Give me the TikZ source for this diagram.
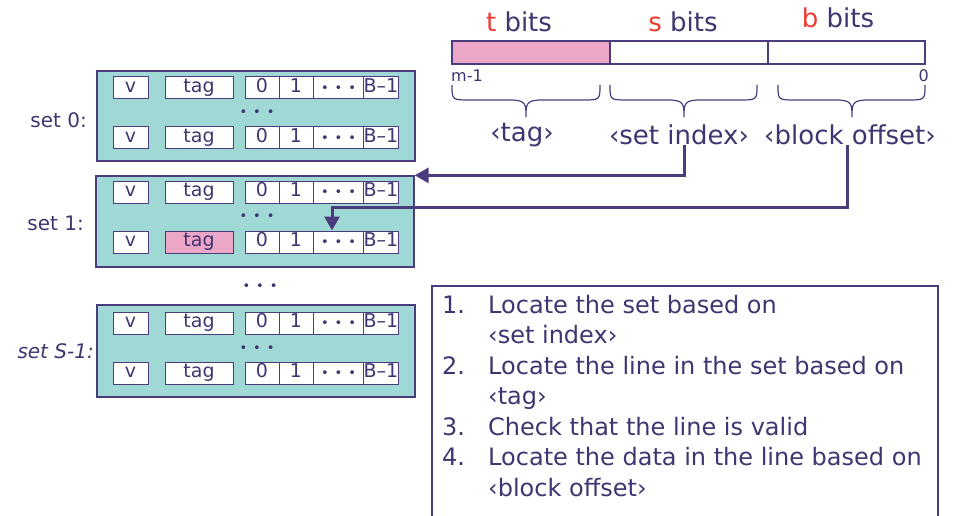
\documentclass[tikz,border=0pt]{standalone}
\usepackage{fontspec}
\setmainfont{DejaVu Sans}
\usetikzlibrary{arrows.meta,calc}
\definecolor{ink}{HTML}{3F3570}
\definecolor{edgec}{HTML}{4B3C7D}
\definecolor{cacheteal}{HTML}{9FD8D4}
\definecolor{tagpink}{HTML}{EBA6C8}
\definecolor{bitred}{HTML}{EE3B30}
\newcommand\threedots{{\fontsize{13}{13}\selectfont •\hspace{6pt}•\hspace{6pt}•}}
\newcommand\cacherow[3]{%
  \node[cell,minimum width=35] (#1v) at (130.5,#2) {v};
  \node[cell,minimum width=68,fill=#3] (#1t) at (199,#2) {tag};
  \node[cell,minimum width=34] (#1a) at (262,#2) {0};
  \node[cell,minimum width=34] (#1b) at (296,#2) {1};
  \node[cell,minimum width=51] (#1c) at (338.5,#2) {\threedots};
  \node[cell,minimum width=34] (#1d) at (381,#2) {B–1};
}
\newcommand\addrbrace[4]{%
  \draw[bracec] (#1,85) .. controls (#1,100) and (#1,100) .. (#1+18,100)
    -- (#3-16,100) .. controls (#3,100) and (#3,104) .. (#3,117)
    .. controls (#3,104) and (#3,100) .. (#3+16,100)
    -- (#2-18,100) .. controls (#2,100) and (#2,100) .. (#2,85);
  \coordinate (#4) at (#3,117);
}
\begin{document}
\begin{tikzpicture}[x=1pt,y=-1pt,
  setbox/.style={draw=edgec,fill=cacheteal,line width=1.3pt,inner sep=0pt,minimum width=318},
  cell/.style={draw=edgec,fill=white,line width=1pt,inner sep=0pt,minimum height=22,
    text height=13pt,text depth=3.5pt,text=ink,font=\fontsize{19}{19}\selectfont},
  field/.style={draw=edgec,line width=1.2pt,inner sep=0pt,minimum height=23},
  lbl/.style={text=ink,inner sep=0pt,font=\fontsize{26}{26}\selectfont},
  setlbl/.style={text=ink,inner sep=0pt,anchor=east,font=\fontsize{20}{20}\selectfont},
  dotsc/.style={text=ink,inner sep=0pt},
  bracec/.style={draw=edgec,line width=1.2pt},
  conn/.style={draw=edgec,line width=3pt,-{Triangle[length=14pt,width=15pt]}},
  listtxt/.style={text=ink,inner sep=0pt,anchor=base west,font=\fontsize{24}{24}\selectfont}
]
\useasboundingbox (0,0) rectangle (953,516);

% sets
\node[setbox,minimum height=90] (set0) at (256,116) {};
\node[setbox,minimum height=91] (set1) at (255,221.5) {};
\node[setbox,minimum height=92] (setS) at (256,351) {};

\node[setlbl] (l0) at (87,120) {set 0:};
\node[setlbl] (l1) at (84,223) {set 1:};
\node[setlbl] (lS) at (94,351) {\itshape set S-1:};

\cacherow{s0r1}{88}{white}
\cacherow{s0r2}{138}{white}
\cacherow{s1r1}{192}{white}
\cacherow{s1r2}{242}{tagpink}
\cacherow{sSr1}{323}{white}
\cacherow{sSr2}{373}{white}

\node[dotsc] (d0) at (257,113) {\threedots};
\node[dotsc] (d1) at (257,217) {\threedots};
\node[dotsc] (dm) at (260,287) {\threedots};
\node[dotsc] (dS) at (257,349) {\threedots};

% address
\node[field,fill=tagpink,minimum width=158] (ft) at (531,52.5) {};
\node[field,fill=white,minimum width=158] (fs) at (689,52.5) {};
\node[field,fill=white,minimum width=157] (fb) at (846.5,52.5) {};

\node[lbl] (bt) at (519,22) {\textcolor{bitred}{t} bits};
\node[lbl] (bs) at (683,22) {\textcolor{bitred}{s} bits};
\node[lbl] (bb) at (838,18) {\textcolor{bitred}{b} bits};

\node[text=ink,inner sep=0pt,anchor=west,font=\fontsize{16}{16}\selectfont] (hi) at (451,76) {m-1};
\node[text=ink,inner sep=0pt,anchor=east,font=\fontsize{16}{16}\selectfont] (lo) at (929,76) {0};

\addrbrace{452}{600}{526}{tipt}
\addrbrace{610}{757}{684}{tips}
\addrbrace{778}{925}{852}{tipb}

\node[lbl] (ltag) at (522,135) {‹tag›};
\node[lbl] (lsidx) at (679,135) {‹set index›};
\node[lbl] (lboff) at (850,135) {‹block offset›};

% connectors
\draw[conn] ($(lsidx.south)+(5,0)$) |- (set1.north east);
\coordinate (bend) at (332,207);
\draw[conn] ($(lboff.south)+(-3,0)$) |- (bend) -- (bend |- s1r2c.north);

% steps box
\node[draw=edgec,line width=2pt,inner sep=0pt,minimum width=506,minimum height=240,anchor=north west] (steps) at (431,285) {};
\node[listtxt] (n1) at (442,313) {1.};
\node[listtxt] (t1) at (488,313) {Locate the set based on};
\node[listtxt] (t1b) at (488,343.5) {‹set index›};
\node[listtxt] (n2) at (442,374) {2.};
\node[listtxt] (t2) at (488,374) {Locate the line in the set based on};
\node[listtxt] (t2b) at (488,404.5) {‹tag›};
\node[listtxt] (n3) at (442,435) {3.};
\node[listtxt] (t3) at (488,435) {Check that the line is valid};
\node[listtxt] (n4) at (442,465.5) {4.};
\node[listtxt] (t4) at (488,465.5) {Locate the data in the line based on};
\node[listtxt] (t4b) at (488,496) {‹block offset›};
\end{tikzpicture}
\end{document}
